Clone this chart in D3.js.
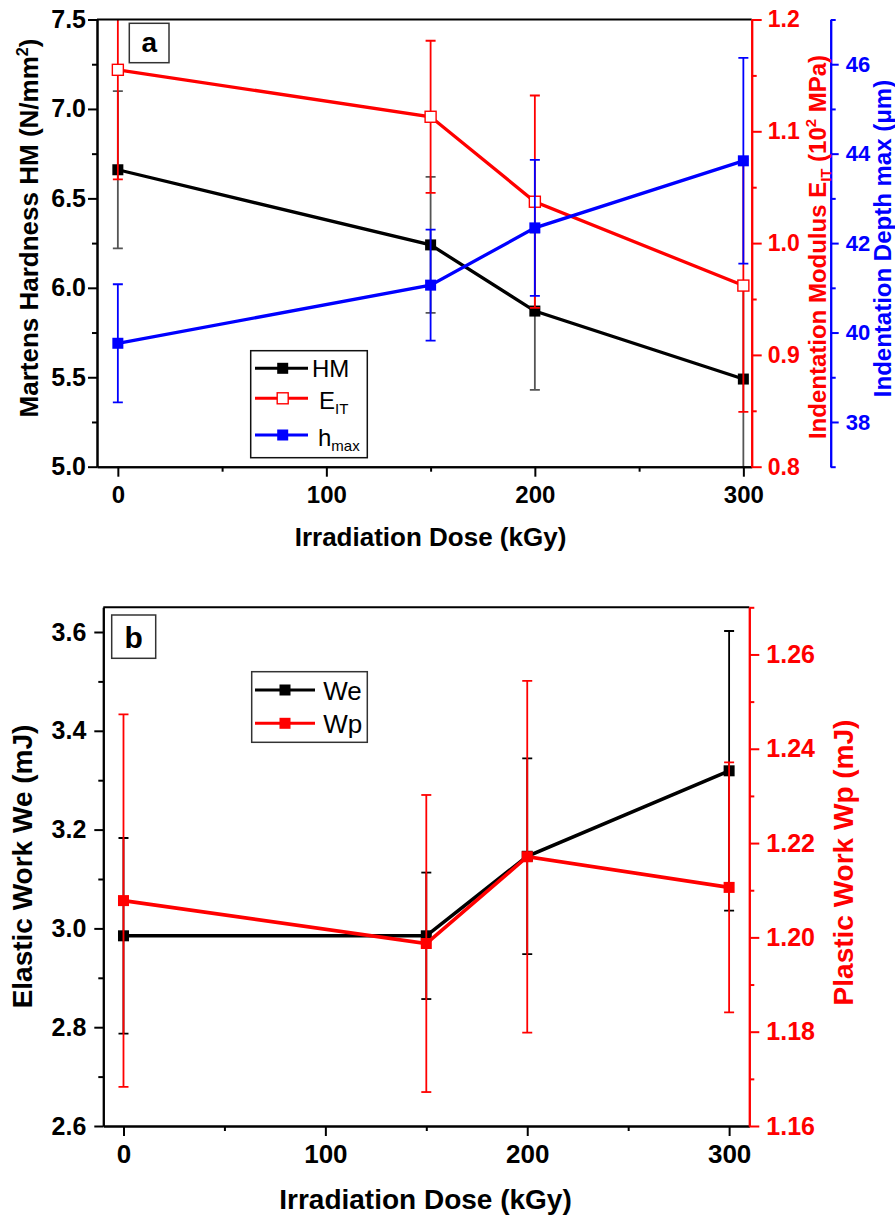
<!DOCTYPE html>
<html><head><meta charset="utf-8">
<script src="https://cdn.jsdelivr.net/npm/d3@7"></script>
<style>
body{margin:0;background:#fff;}
svg{display:block;font-family:"Liberation Sans",Arial,sans-serif;}
</style></head>
<body><svg id="chart" width="895" height="1218"></svg>
<script>
// ---------- data ----------
const dose = [0, 150, 200, 300];
// panel a
const hmValues   = [6.66, 6.24, 5.87, 5.49];
const hmErrors   = [0.44, 0.38, 0.44, 0.50];
const eitValues  = [1.155, 1.113, 1.037, 0.962];
const eitErrors  = [0.098, 0.068, 0.095, 0.113];
const hmaxValues = [39.76, 41.06, 42.34, 43.84];
const hmaxErrors = [1.32, 1.24, 1.52, 2.30];
// panel b
const weValues = [2.985, 2.985, 3.146, 3.319];
const weErrors = [0.198, 0.128, 0.198, 0.283];
const wpValues = [1.2078, 1.1987, 1.2171, 1.2106];
const wpErrors = [0.0395, 0.0315, 0.0373, 0.0265];
// ticks
const xTicks = [0, 100, 200, 300];
const xMinor = [50, 150, 250];
const hmTicks = [5.0, 5.5, 6.0, 6.5, 7.0, 7.5];
const hmMinor = [5.25, 5.75, 6.25, 6.75, 7.25];
const eitTicks = [0.8, 0.9, 1.0, 1.1, 1.2];
const eitMinor = [0.85, 0.95, 1.05, 1.15];
const hmaxTicks = [38, 40, 42, 44, 46];
const hmaxMinor = [37, 39, 41, 43, 45, 47];
const weTicks = [2.6, 2.8, 3.0, 3.2, 3.4, 3.6];
const weMinor = [2.7, 2.9, 3.1, 3.3, 3.5];
const wpTicks = [1.16, 1.18, 1.20, 1.22, 1.24, 1.26];
const wpMinor = [1.17, 1.19, 1.21, 1.23, 1.25, 1.27];

const RED = "#ff0000", BLUE = "#0000ff", BLACK = "#000000";
const svg = d3.select("#chart");

function styleAxis(g, color, fontSize, lw) {
  g.select(".domain").attr("stroke", color).attr("stroke-width", lw);
  g.selectAll(".tick line").attr("stroke", color).attr("stroke-width", lw);
  g.selectAll(".tick text").attr("fill", color).attr("font-size", fontSize)
    .attr("font-weight", "bold").attr("font-family", "Liberation Sans, Arial, sans-serif");
}

function drawAxis(axisFn, scale, transform, color, fontSize, fmt, major, minor, majorLen, minorLen, pad) {
  const gm = svg.append("g").attr("transform", transform)
    .call(axisFn(scale).tickValues(minor).tickSize(minorLen).tickSizeOuter(0).tickFormat(""));
  styleAxis(gm, color, fontSize, 2);
  const g = svg.append("g").attr("transform", transform)
    .call(axisFn(scale).tickValues(major).tickSize(majorLen).tickSizeOuter(0).tickPadding(pad).tickFormat(fmt));
  styleAxis(g, color, fontSize, 2);
  return g;
}

function series(layer, x, y, xs, ys, errs, color, errColor, lineW, filled, clipId) {
  const pts = xs.map((d, i) => ({x: d, y: ys[i], e: errs[i]}));
  const g = layer.append("g").attr("clip-path", `url(#${clipId})`);
  return {pts, g, x, y, color, errColor, lineW, filled};
}

function drawErr(s) {
  const eg = s.g.append("g");
  s.pts.forEach(p => {
    const cx = s.x(p.x);
    eg.append("line").attr("x1", cx).attr("x2", cx)
      .attr("y1", s.y(p.y - p.e)).attr("y2", s.y(p.y + p.e))
      .attr("stroke", s.errColor).attr("stroke-width", 1.8);
    [p.y - p.e, p.y + p.e].forEach(v => {
      eg.append("line").attr("x1", cx - 5).attr("x2", cx + 5)
        .attr("y1", s.y(v)).attr("y2", s.y(v))
        .attr("stroke", s.errColor).attr("stroke-width", 1.8);
    });
  });
}
function drawLine(s) {
  s.g.append("path").datum(s.pts)
    .attr("d", d3.line().x(d => s.x(d.x)).y(d => s.y(d.y)))
    .attr("fill", "none").attr("stroke", s.color).attr("stroke-width", s.lineW);
  s.pts.forEach(p => {
    const m = 11;
    s.g.append("rect").attr("x", s.x(p.x) - m / 2).attr("y", s.y(p.y) - m / 2)
      .attr("width", m).attr("height", m)
      .attr("fill", s.filled ? s.color : "#fff")
      .attr("stroke", s.color).attr("stroke-width", s.filled ? 0 : 1.4);
  });
}

// ================= PANEL A =================
const A = {l: 97, r: 751.7, t: 19.5, b: 466.7};
const xa = d3.scaleLinear().domain([-10, 304]).range([A.l, A.r]);
const yHM = d3.scaleLinear().domain([5, 7.5]).range([A.b, A.t]);
const yE = d3.scaleLinear().domain([0.8, 1.2]).range([A.b, A.t]);
const yH = d3.scaleLinear().domain([37, 47]).range([A.b, A.t]);

const defs = svg.append("defs");
defs.append("clipPath").attr("id", "clipA").append("rect")
  .attr("x", A.l).attr("y", A.t).attr("width", A.r - A.l).attr("height", A.b - A.t);

const layerA = svg.append("g");
const sHM = series(layerA, xa, yHM, dose, hmValues, hmErrors, BLACK, "#555", 3.3, true, "clipA");
const sE = series(layerA, xa, yE, dose, eitValues, eitErrors, RED, RED, 3.3, false, "clipA");
const sH = series(layerA, xa, yH, dose, hmaxValues, hmaxErrors, BLUE, BLUE, 3.3, true, "clipA");
[sHM, sE, sH].forEach(s => { drawErr(s); drawLine(s); });

// frame
svg.append("line").attr("x1", A.l).attr("x2", A.r).attr("y1", A.t).attr("y2", A.t)
  .attr("stroke", BLACK).attr("stroke-width", 2);
const f1 = d3.format(".1f");
drawAxis(d3.axisLeft, yHM, `translate(${A.l},0)`, BLACK, 25, f1, hmTicks, hmMinor, 9, 5, 2);
drawAxis(d3.axisBottom, xa, `translate(0,${A.b})`, BLACK, 24, d3.format("d"), xTicks, xMinor, 10, 5, 9);
drawAxis(d3.axisRight, yE, `translate(${A.r},0)`, RED, 23, f1, eitTicks, eitMinor, 10, 5, 6);
drawAxis(d3.axisRight, yH, `translate(830.7,0)`, BLUE, 22, d3.format("d"), hmaxTicks, hmaxMinor, 8, 5, 7);

// titles
function vtitle(x, cy, color, size, parts) {
  const t = svg.append("text").attr("transform", `translate(${x},${cy}) rotate(-90)`)
    .attr("text-anchor", "middle").attr("fill", color).attr("font-size", size)
    .attr("font-weight", "bold");
  parts.forEach(p => {
    const ts = t.append("tspan").text(p.t);
    if (p.s === "sub") ts.attr("font-size", size * 0.62).attr("dy", size * 0.22);
    if (p.s === "sup") ts.attr("font-size", size * 0.62).attr("dy", -size * 0.4);
    if (p.s === "back") ts.attr("dy", p.dy);
  });
  return t;
}
vtitle(38, 228, BLACK, 26, [{t: "Martens Hardness HM (N/mm"}, {t: "2", s: "sup"}, {t: ")", s: "back", dy: 26 * 0.4}]);
vtitle(826, 247, RED, 24, [{t: "Indentation Modulus E"}, {t: "IT", s: "sub"}, {t: " (10", s: "back", dy: -24 * 0.22}, {t: "2", s: "sup"}, {t: " MPa)", s: "back", dy: 24 * 0.4}]);
vtitle(891, 238.5, BLUE, 24, [{t: "Indentation Depth max (\u03bcm)"}]);
svg.append("text").attr("x", 430.5).attr("y", 546).attr("text-anchor", "middle")
  .attr("font-size", 26).attr("font-weight", "bold").text("Irradiation Dose (kGy)");

// panel label a
svg.append("rect").attr("x", 129.3).attr("y", 23.3).attr("width", 39.7).attr("height", 39.4)
  .attr("fill", "#fff").attr("stroke", "#333").attr("stroke-width", 1.5);
svg.append("text").attr("x", 149.2).attr("y", 52).attr("text-anchor", "middle")
  .attr("font-size", 28).attr("font-weight", "bold").text("a");

// legend a
const legA = svg.append("g");
legA.append("rect").attr("x", 250.7).attr("y", 350.7).attr("width", 116.6).attr("height", 107)
  .attr("fill", "#fff").attr("stroke", "#111").attr("stroke-width", 1.5);
const legItemsA = [
  {c: BLACK, filled: true, y: 368.3, tx: 312, ty: 377.3, parts: [{t: "HM"}]},
  {c: RED, filled: false, y: 398.3, tx: 319, ty: 409, parts: [{t: "E"}, {t: "IT", s: "sub"}]},
  {c: BLUE, filled: true, y: 435, tx: 318, ty: 445.7, parts: [{t: "h"}, {t: "max", s: "sub"}]}
];
legItemsA.forEach(it => {
  legA.append("line").attr("x1", 255).attr("x2", 308).attr("y1", it.y).attr("y2", it.y)
    .attr("stroke", it.c).attr("stroke-width", 3);
  legA.append("rect").attr("x", 282.7 - 5.5).attr("y", it.y - 5.5).attr("width", 11).attr("height", 11)
    .attr("fill", it.filled ? it.c : "#fff").attr("stroke", it.c).attr("stroke-width", it.filled ? 0 : 1.4);
  const t = legA.append("text").attr("x", it.tx).attr("y", it.ty).attr("font-size", 24);
  it.parts.forEach(p => {
    const ts = t.append("tspan").text(p.t);
    if (p.s === "sub") ts.attr("font-size", 15).attr("dy", 5);
  });
});

// ================= PANEL B =================
const B = {l: 103.3, r: 749.3, t: 607.3, b: 1126};
const xb = d3.scaleLinear().domain([-10, 310]).range([B.l, B.r]);
const yWe = d3.scaleLinear().domain([2.6, 3.65]).range([B.b, B.t]);
const yWp = d3.scaleLinear().domain([1.16, 1.27]).range([B.b, B.t]);
defs.append("clipPath").attr("id", "clipB").append("rect")
  .attr("x", B.l).attr("y", B.t).attr("width", B.r - B.l).attr("height", B.b - B.t);

const layerB = svg.append("g");
const sWe = series(layerB, xb, yWe, dose, weValues, weErrors, BLACK, BLACK, 3.6, true, "clipB");
const sWp = series(layerB, xb, yWp, dose, wpValues, wpErrors, RED, RED, 3.6, true, "clipB");
[sWe, sWp].forEach(s => { drawErr(s); drawLine(s); });

svg.append("line").attr("x1", B.l).attr("x2", B.r).attr("y1", B.t).attr("y2", B.t)
  .attr("stroke", BLACK).attr("stroke-width", 2);
drawAxis(d3.axisLeft, yWe, `translate(${B.l},0)`, BLACK, 25, f1, weTicks, weMinor, 9, 5, 8);
drawAxis(d3.axisBottom, xb, `translate(0,${B.b})`, BLACK, 26, d3.format("d"), xTicks, xMinor, 10, 5, 9);
drawAxis(d3.axisRight, yWp, `translate(${B.r},0)`, RED, 25, d3.format(".2f"), wpTicks, wpMinor, 10, 5, 7);

vtitle(31.7, 866.5, BLACK, 28, [{t: "Elastic Work We (mJ)"}]);
vtitle(853, 862.5, RED, 28, [{t: "Plastic Work Wp (mJ)"}]);
svg.append("text").attr("x", 425.5).attr("y", 1209).attr("text-anchor", "middle")
  .attr("font-size", 28).attr("font-weight", "bold").text("Irradiation Dose (kGy)");

svg.append("rect").attr("x", 111.7).attr("y", 615).attr("width", 44).attr("height", 43.3)
  .attr("fill", "#fff").attr("stroke", "#333").attr("stroke-width", 1.5);
svg.append("text").attr("x", 133.7).attr("y", 648).attr("text-anchor", "middle")
  .attr("font-size", 30).attr("font-weight", "bold").text("b");

const legB = svg.append("g");
legB.append("rect").attr("x", 251.7).attr("y", 671.7).attr("width", 115.6).attr("height", 70.6)
  .attr("fill", "#fff").attr("stroke", "#333").attr("stroke-width", 1.5);
[{c: BLACK, y: 690, ty: 700, t: "We"}, {c: RED, y: 723.3, ty: 733.3, t: "Wp"}].forEach(it => {
  legB.append("line").attr("x1", 255).attr("x2", 315).attr("y1", it.y).attr("y2", it.y)
    .attr("stroke", it.c).attr("stroke-width", 3);
  legB.append("rect").attr("x", 285 - 5.5).attr("y", it.y - 5.5).attr("width", 11).attr("height", 11)
    .attr("fill", it.c);
  legB.append("text").attr("x", 323.3).attr("y", it.ty).attr("font-size", 26).text(it.t);
});
</script></body></html>
